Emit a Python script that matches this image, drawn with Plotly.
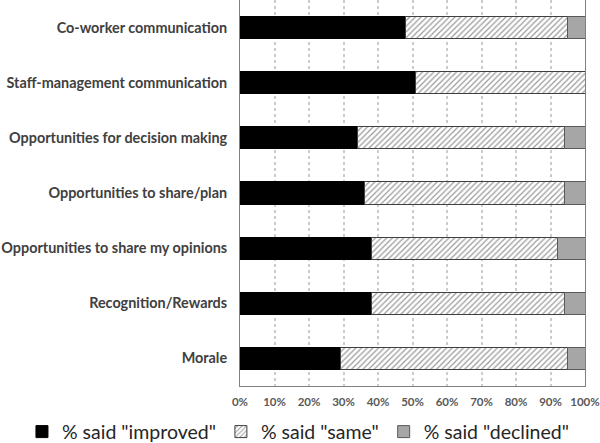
import plotly.graph_objects as go

categories = [
    "Co-worker communication",
    "Staff-management communication",
    "Opportunities for decision making",
    "Opportunities to share/plan",
    "Opportunities to share my opinions",
    "Recognition/Rewards",
    "Morale",
]
improved = [48, 51, 34, 36, 38, 38, 29]
same = [47, 49, 60, 58, 54, 56, 66]
declined = [5, 0, 6, 6, 8, 6, 5]
tick_vals = [0, 10, 20, 30, 40, 50, 60, 70, 80, 90, 100]
tick_text = [f"{v}%" for v in tick_vals]

FONT = "Lato"

fig = go.Figure()
fig.add_trace(go.Bar(
    y=categories, x=improved, orientation="h", name='% said "improved"',
    marker=dict(color="black", line=dict(color="black", width=1)),
))
fig.add_trace(go.Bar(
    y=categories, x=same, orientation="h", name='% said "same"',
    marker=dict(color="white", line=dict(color="#404040", width=1),
                pattern=dict(shape="/", fgcolor="#333333", bgcolor="white",
                             size=4, solidity=0.3)),
))
fig.add_trace(go.Bar(
    y=categories, x=declined, orientation="h", name='% said "declined"',
    marker=dict(color="#a6a6a6", line=dict(color="#595959", width=1)),
))

fig.update_layout(
    barmode="stack",
    bargap=0.6,
    width=600, height=443,
    margin=dict(l=240, r=15, t=0, b=57, autoexpand=False),
    plot_bgcolor="white", paper_bgcolor="white",
    font=dict(family=FONT, color="#404040"),
    showlegend=True,
    legend=dict(orientation="h",
                x=-0.632, xanchor="left", y=-0.119, yanchor="middle",
                bgcolor="rgba(0,0,0,0)",
                font=dict(size=19.5, color="#262626", family=FONT),
                traceorder="normal"),
)
fig.update_xaxes(
    range=[0, 100], tickvals=tick_vals, ticktext=tick_text,
    showgrid=True, gridcolor="#cccccc", griddash="dot", gridwidth=1.5,
    showline=True, linecolor="#808080", linewidth=1, mirror=True,
    ticks="", ticklabelstandoff=5, ticklabeloverflow="allow",
    tickfont=dict(size=11.5, color="#595959", family=FONT, weight="bold"),
    zeroline=False,
)
fig.update_yaxes(
    autorange="reversed",
    showline=True, linecolor="#808080", linewidth=1, mirror=True,
    ticks="", ticklabelstandoff=9,
    tickfont=dict(size=14.4, color="#404040", family=FONT, weight="bold"),
)

fig.write_html("out.html", config={"displayModeBar": False},
               post_script="document.body.style.margin='0';")
